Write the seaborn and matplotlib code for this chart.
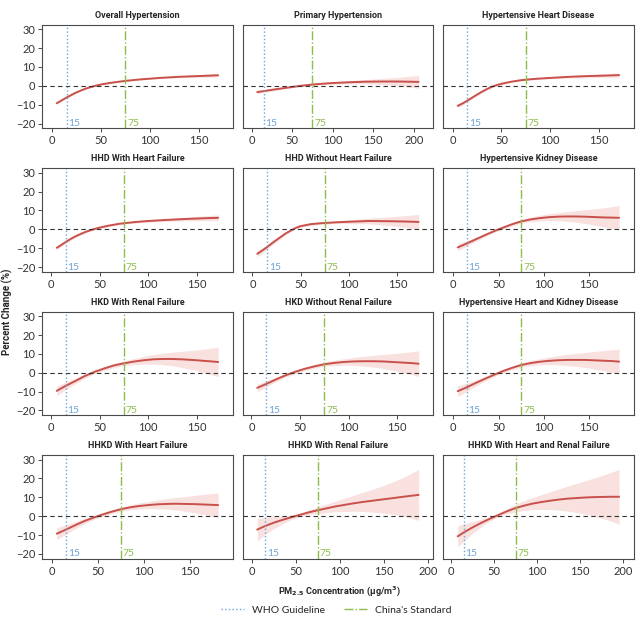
import numpy as np
import pandas as pd
import matplotlib
matplotlib.use('Agg')
import matplotlib.pyplot as plt
from matplotlib.lines import Line2D
from matplotlib.ticker import MultipleLocator
import seaborn as sns

# Panel titles (row by row)
titles = ['Overall Hypertension', 'Primary Hypertension', 'Hypertensive Heart Disease',
          'HHD With Heart Failure', 'HHD Without Heart Failure', 'Hypertensive Kidney Disease',
          'HKD With Renal Failure', 'HKD Without Renal Failure', 'Hypertensive Heart and Kidney Disease',
          'HHKD With Heart Failure', 'HHKD With Renal Failure', 'HHKD With Heart and Renal Failure']

# Exposure-response curves: PM2.5 (x), percent change (y), CI half-width (ci)
overall_x = [5, 10, 15, 20, 25, 30, 35, 40, 45, 50, 60, 70, 80, 90, 100, 110, 120, 130, 140, 150, 160, 170]
overall_y = [-9.2, -7.7, -6.2, -4.8, -3.5, -2.4, -1.4, -0.6, 0.1, 0.7, 1.6, 2.3, 2.9, 3.4, 3.8, 4.2, 4.5, 4.8, 5.0, 5.2, 5.4, 5.6]
overall_ci = [0.6, 0.5, 0.4, 0.4, 0.3, 0.3, 0.3, 0.3, 0.3, 0.3, 0.3, 0.3, 0.3, 0.3, 0.3, 0.4, 0.4, 0.5, 0.6, 0.7, 0.8, 0.9]

primary_x = [7, 15, 25, 35, 50, 60, 75, 90, 100, 120, 140, 160, 180, 206]
primary_y = [-3.3, -2.8, -2.1, -1.5, -0.6, 0.0, 0.7, 1.2, 1.5, 1.9, 2.2, 2.3, 2.3, 2.1]
primary_ci = [0.8, 0.7, 0.6, 0.5, 0.4, 0.4, 0.4, 0.5, 0.6, 0.8, 1.1, 1.6, 2.2, 3.4]

hhd_x = [5, 10, 15, 20, 25, 30, 35, 40, 45, 50, 60, 70, 80, 90, 100, 120, 140, 160, 171]
hhd_y = [-10.6, -9.3, -7.8, -6.2, -4.6, -3.1, -1.7, -0.5, 0.4, 1.1, 2.2, 3.0, 3.5, 3.9, 4.2, 4.8, 5.2, 5.5, 5.7]
hhd_ci = [0.9, 0.8, 0.7, 0.6, 0.5, 0.5, 0.5, 0.4, 0.4, 0.4, 0.4, 0.4, 0.4, 0.4, 0.5, 0.6, 0.8, 1.0, 1.2]

hhd_hf_x = [6, 10, 15, 20, 25, 30, 35, 40, 45, 50, 60, 70, 80, 90, 100, 120, 140, 160, 172]
hhd_hf_y = [-9.8, -8.5, -6.8, -5.2, -3.8, -2.6, -1.5, -0.6, 0.2, 0.9, 2.0, 2.9, 3.5, 4.0, 4.4, 5.0, 5.5, 5.9, 6.1]
hhd_hf_ci = [1.0, 0.9, 0.8, 0.7, 0.6, 0.5, 0.5, 0.5, 0.5, 0.5, 0.5, 0.5, 0.5, 0.6, 0.6, 0.8, 1.0, 1.3, 1.5]

hhd_nohf_x = [5, 10, 15, 20, 25, 30, 35, 40, 45, 50, 60, 70, 80, 90, 100, 120, 140, 160, 172]
hhd_nohf_y = [-13.0, -11.3, -9.5, -7.5, -5.6, -3.8, -2.0, -0.6, 0.8, 1.7, 2.7, 3.2, 3.5, 3.8, 4.0, 4.4, 4.3, 4.1, 3.9]
hhd_nohf_ci = [1.6, 1.4, 1.2, 1.0, 0.9, 0.8, 0.7, 0.7, 0.6, 0.6, 0.6, 0.6, 0.7, 0.8, 1.0, 1.5, 2.2, 3.2, 4.0]

hkd_x = [5, 15, 25, 35, 45, 55, 65, 75, 85, 95, 105, 115, 125, 135, 145, 155, 165, 175, 183]
hkd_y = [-9.6, -7.5, -5.3, -3.1, -1.0, 0.9, 2.7, 4.2, 5.2, 5.9, 6.4, 6.7, 6.8, 6.8, 6.7, 6.5, 6.3, 6.2, 6.1]
hkd_ci = [1.8, 1.4, 1.1, 0.9, 0.8, 0.8, 0.9, 1.0, 1.2, 1.5, 1.8, 2.1, 2.5, 3.0, 3.6, 4.3, 5.0, 5.8, 6.5]

hkd_rf_x = [6, 15, 25, 35, 45, 55, 65, 75, 85, 95, 105, 115, 125, 135, 145, 155, 165, 172]
hkd_rf_y = [-9.6, -7.0, -4.4, -1.7, 0.5, 2.3, 3.9, 5.0, 5.9, 6.6, 7.1, 7.3, 7.3, 7.1, 6.8, 6.4, 6.0, 5.7]
hkd_rf_ci = [2.5, 2.0, 1.5, 1.1, 1.0, 1.0, 1.1, 1.3, 1.6, 2.0, 2.5, 3.0, 3.6, 4.3, 5.0, 6.0, 7.0, 7.8]

hkd_norf_x = [6, 15, 25, 35, 45, 55, 65, 75, 85, 95, 105, 115, 125, 135, 145, 155, 165, 172]
hkd_norf_y = [-8.0, -6.0, -3.6, -1.4, 0.5, 2.1, 3.4, 4.5, 5.2, 5.7, 6.0, 6.1, 6.1, 6.0, 5.7, 5.4, 5.1, 4.8]
hkd_norf_ci = [2.0, 1.6, 1.2, 1.0, 0.9, 0.9, 1.0, 1.1, 1.4, 1.7, 2.1, 2.6, 3.1, 3.7, 4.4, 5.2, 6.0, 6.8]

hhkd_x = [5, 15, 25, 35, 45, 55, 65, 75, 85, 95, 105, 115, 125, 135, 145, 155, 165, 175, 183]
hhkd_y = [-9.8, -7.7, -5.4, -3.2, -1.1, 0.9, 2.6, 4.1, 5.1, 5.8, 6.3, 6.6, 6.8, 6.8, 6.8, 6.6, 6.4, 6.2, 5.9]
hhkd_ci = [2.8, 2.2, 1.6, 1.2, 1.0, 0.9, 1.0, 1.1, 1.3, 1.6, 2.0, 2.4, 2.9, 3.4, 4.0, 4.6, 5.3, 6.0, 6.6]

hhkd_hf_x = [5, 15, 25, 35, 45, 55, 65, 75, 85, 95, 105, 115, 125, 135, 145, 155, 165, 175, 181]
hhkd_hf_y = [-9.3, -7.1, -4.8, -2.6, -0.8, 0.9, 2.4, 3.7, 4.7, 5.4, 5.9, 6.3, 6.5, 6.6, 6.5, 6.4, 6.2, 6.0, 5.9]
hhkd_hf_ci = [3.2, 2.5, 1.9, 1.4, 1.1, 1.0, 1.0, 1.1, 1.3, 1.6, 1.9, 2.3, 2.8, 3.3, 3.9, 4.6, 5.3, 6.0, 6.4]

hhkd_rf_x = [6, 15, 25, 35, 45, 55, 65, 75, 85, 95, 105, 115, 125, 135, 145, 155, 165, 175, 189]
hhkd_rf_y = [-7.1, -5.2, -3.4, -1.9, -0.5, 0.8, 2.1, 3.2, 4.2, 5.2, 6.0, 6.8, 7.5, 8.1, 8.7, 9.3, 9.9, 10.5, 11.3]
hhkd_rf_ci = [6.0, 4.5, 3.2, 2.0, 1.2, 1.0, 1.3, 1.8, 2.3, 2.8, 3.5, 4.2, 5.0, 5.9, 6.9, 8.0, 9.3, 10.8, 13.5]

hhkd_hrf_x = [8, 15, 25, 35, 45, 55, 65, 75, 85, 95, 105, 115, 125, 135, 145, 155, 165, 175, 185, 195]
hhkd_hrf_y = [-10.7, -8.6, -6.0, -3.6, -1.4, 0.6, 2.6, 4.3, 5.6, 6.7, 7.5, 8.2, 8.8, 9.3, 9.6, 9.9, 10.1, 10.2, 10.3, 10.3]
hhkd_hrf_ci = [5.6, 4.5, 3.2, 2.0, 1.2, 1.0, 1.4, 2.0, 2.6, 3.2, 3.9, 4.7, 5.6, 6.6, 7.6, 8.8, 10.0, 11.3, 12.8, 14.5]

panels = [(overall_x, overall_y, overall_ci), (primary_x, primary_y, primary_ci), (hhd_x, hhd_y, hhd_ci),
          (hhd_hf_x, hhd_hf_y, hhd_hf_ci), (hhd_nohf_x, hhd_nohf_y, hhd_nohf_ci), (hkd_x, hkd_y, hkd_ci),
          (hkd_rf_x, hkd_rf_y, hkd_rf_ci), (hkd_norf_x, hkd_norf_y, hkd_norf_ci), (hhkd_x, hhkd_y, hhkd_ci),
          (hhkd_hf_x, hhkd_hf_y, hhkd_hf_ci), (hhkd_rf_x, hhkd_rf_y, hhkd_rf_ci), (hhkd_hrf_x, hhkd_hrf_y, hhkd_hrf_ci)]

who_limit = 15
china_limit = 75

sns.set_style('ticks')
plt.rcParams['font.family'] = ['Lato', 'DejaVu Sans']

line_color = '#c9504b'
band_color = '#f8e1df'
who_color = '#6fa3d8'
china_color = '#8dbd4c'
spine_color = '#4a4a4a'

fig, axes = plt.subplots(4, 3, figsize=(6.4, 6.23), dpi=100, sharey=True)
fig.subplots_adjust(left=0.066, right=0.99, top=0.96, bottom=0.103, wspace=0.053, hspace=0.385)

for i, ax in enumerate(axes.flat):
    x, y, ci = panels[i]
    df = pd.DataFrame({'pm': x, 'change': y, 'ci': ci})
    ax.fill_between(df['pm'], df['change'] - df['ci'], df['change'] + df['ci'],
                    color=band_color, lw=0)
    sns.lineplot(data=df, x='pm', y='change', ax=ax, color=line_color, lw=1.4)
    ax.margins(x=0.09)
    ax.set_ylim(-22.6, 32.3)
    ax.axhline(0, color='#333333', lw=0.8, ls=(0, (4, 3)))
    ax.axvline(who_limit, color=who_color, lw=1.0, ls=':')
    ax.axvline(china_limit, color=china_color, lw=1.0, ls='-.')
    ax.text(who_limit + 2, -20, str(who_limit), color=who_color, fontsize=7.5, va='center')
    ax.text(china_limit + 2, -20, str(china_limit), color=china_color, fontsize=7.5, va='center')
    ax.set_title(titles[i], fontsize=6.5, fontweight='bold',
                 family=['Roboto', 'DejaVu Sans'], pad=5)
    ax.set_xlabel('')
    ax.set_ylabel('')
    ax.xaxis.set_major_locator(MultipleLocator(50))
    ax.yaxis.set_major_locator(MultipleLocator(10))
    ax.tick_params(labelsize=8, length=3, width=0.7, color=spine_color, labelcolor='#333333', pad=2)
    if i % 3 != 0:
        ax.tick_params(left=False)
    for s in ax.spines.values():
        s.set_color(spine_color)
        s.set_linewidth(0.8)

fig.text(0.012, 0.5, 'Percent Change (%)', rotation=90, va='center', ha='center',
         fontsize=7, fontweight='bold', family=['Roboto', 'DejaVu Sans'])
fig.text(0.53, 0.051, r'PM$_{\mathbf{2.5}}$ Concentration (μg/m$^{\mathbf{3}}$)', ha='center', va='center',
         fontsize=6.6, fontweight='bold', family=['Roboto', 'DejaVu Sans'])

handles = [Line2D([], [], color=who_color, lw=1.0, ls=':'),
           Line2D([], [], color=china_color, lw=1.0, ls='-.')]
fig.legend(handles, ['WHO Guideline', "China's Standard"], loc='center', bbox_to_anchor=(0.525, 0.021),
           ncol=2, frameon=False, fontsize=7.5, handlelength=2.2, columnspacing=1.8)

fig.savefig('out.png', dpi=100)
